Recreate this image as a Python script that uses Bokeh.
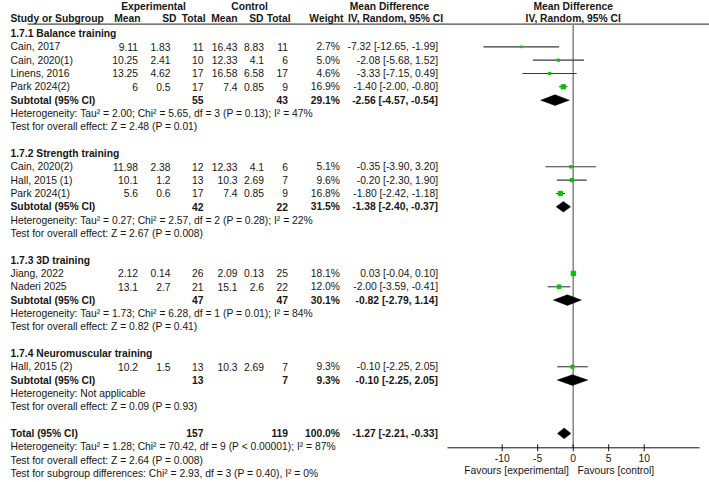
from math import sqrt

from bokeh.core.properties import value
from bokeh.embed import file_html
from bokeh.models import ColumnDataSource, Range1d
from bokeh.plotting import figure
from bokeh.resources import INLINE

# ---------------- data ----------------
groups = [
    "1.7.1 Balance training",
    "1.7.2 Strength training",
    "1.7.3 3D training",
    "1.7.4 Neuromuscular training",
]
studies = [
    "Cain, 2017", "Cain, 2020(1)", "Linens, 2016", "Park 2024(2)",
    "Cain, 2020(2)", "Hall, 2015 (1)", "Park 2024(1)",
    "Jiang, 2022", "Naderi 2025",
    "Hall, 2015 (2)",
]
study_group = [0, 0, 0, 0, 1, 1, 1, 2, 2, 3]
exp_mean = [9.11, 10.25, 13.25, 6, 11.98, 10.1, 5.6, 2.12, 13.1, 10.2]
exp_sd = [1.83, 2.41, 4.62, 0.5, 2.38, 1.2, 0.6, 0.14, 2.7, 1.5]
exp_n = [11, 10, 17, 17, 12, 13, 17, 26, 21, 13]
ctl_mean = [16.43, 12.33, 16.58, 7.4, 12.33, 10.3, 7.4, 2.09, 15.1, 10.3]
ctl_sd = [8.83, 4.1, 6.58, 0.85, 4.1, 2.69, 0.85, 0.13, 2.6, 2.69]
ctl_n = [11, 6, 17, 9, 6, 7, 9, 25, 22, 7]
weight = [2.7, 5.0, 4.6, 16.9, 5.1, 9.6, 16.8, 18.1, 12.0, 9.3]
md = [-7.32, -2.08, -3.33, -1.40, -0.35, -0.20, -1.80, 0.03, -2.00, -0.10]
md_lo = [-12.65, -5.68, -7.15, -2.00, -3.90, -2.30, -2.42, -0.04, -3.59, -2.25]
md_hi = [-1.99, 1.52, 0.49, -0.80, 3.20, 1.90, -1.18, 0.10, -0.41, 2.05]

sub_exp_n = [55, 42, 47, 13]
sub_ctl_n = [43, 22, 47, 7]
sub_weight = [29.1, 31.5, 30.1, 9.3]
sub_md = [-2.56, -1.38, -0.82, -0.10]
sub_lo = [-4.57, -2.40, -2.79, -2.25]
sub_hi = [-0.54, -0.37, 1.14, 2.05]
sub_het = [
    "Heterogeneity: Tau\u00b2 = 2.00; Chi\u00b2 = 5.65, df = 3 (P = 0.13); I\u00b2 = 47%",
    "Heterogeneity: Tau\u00b2 = 0.27; Chi\u00b2 = 2.57, df = 2 (P = 0.28); I\u00b2 = 22%",
    "Heterogeneity: Tau\u00b2 = 1.73; Chi\u00b2 = 6.28, df = 1 (P = 0.01); I\u00b2 = 84%",
    "Heterogeneity: Not applicable",
]
sub_test = [
    "Test for overall effect: Z = 2.48 (P = 0.01)",
    "Test for overall effect: Z = 2.67 (P = 0.008)",
    "Test for overall effect: Z = 0.82 (P = 0.41)",
    "Test for overall effect: Z = 0.09 (P = 0.93)",
]

total_exp_n = 157
total_ctl_n = 119
total_weight = 100.0
total_md = -1.27
total_lo = -2.21
total_hi = -0.33
total_notes = [
    "Heterogeneity: Tau\u00b2 = 1.28; Chi\u00b2 = 70.42, df = 9 (P < 0.00001); I\u00b2 = 87%",
    "Test for overall effect: Z = 2.64 (P = 0.008)",
    "Test for subgroup differences: Chi\u00b2 = 2.93, df = 3 (P = 0.40), I\u00b2 = 0%",
]

axis_ticks = [-10, -5, 0, 5, 10]
axis_limits = (-17.7, 17.8)

# ---------------- layout ----------------
W, H = 709, 482
ZERO_PX = 572.7        # pixel column of the null line
PX_PER_UNIT = 7.1      # pixels per mean-difference unit
ROW0_PX, ROW_PX = 33.0, 13.33


def row_of(px):
    return (px - ROW0_PX) / ROW_PX


FONT = value("Liberation Sans")
SIZE = value("10.3px")
INK = "#161616"

# row numbers for every line of the table
header_row, study_row, sub_row, het_row, test_row = [], [], [], [], []
r = 0
for g in range(len(groups)):
    header_row.append(r)
    r += 1
    for sg in study_group:
        if sg == g:
            study_row.append(r)
            r += 1
    sub_row.append(r)
    het_row.append(r + 1)
    test_row.append(r + 2)
    r += 4
total_row = r
note_rows = [total_row + 1, total_row + 2, total_row + 3]

p = figure(
    width=W, height=H,
    x_range=Range1d(0, W),
    y_range=Range1d(row_of(H), row_of(0)),
    x_axis_type=None, y_axis_type=None,
    output_backend="svg", toolbar_location=None,
    min_border=0,
)
p.extra_x_ranges = {"md": Range1d(-ZERO_PX / PX_PER_UNIT, (W - ZERO_PX) / PX_PER_UNIT)}
p.grid.visible = False
p.outline_line_color = None
p.background_fill_color = "white"
p.border_fill_color = "white"


def add_text(xs, ys, texts, align="left", bold=False, rng=None):
    src = ColumnDataSource(dict(x=list(xs), y=list(ys), t=list(texts)))
    kw = {"x_range_name": rng} if rng else {}
    p.text(x="x", y="y", text="t", source=src, text_font=FONT,
           text_font_size=SIZE, text_align=align, text_baseline="middle",
           text_color=INK, text_font_style="bold" if bold else "normal", **kw)


def fmt(v):
    return f"{v:g}"


def ci(m, lo, hi):
    return f"{m:.2f} [{lo:.2f}, {hi:.2f}]"


# column headers
r_top, r_head, r_rule = row_of(5.8), row_of(17.6), row_of(23.6)
add_text([153, 249, 389, ZERO_PX], [r_top] * 4,
         ["Experimental", "Control", "Mean Difference", "Mean Difference"],
         align="center", bold=True)
add_text([10], [r_head], ["Study or Subgroup"], bold=True)
add_text([140, 176, 205, 237, 263, 290, 343], [r_head] * 7,
         ["Mean", "SD", "Total", "Mean", "SD", "Total", "Weight"],
         align="right", bold=True)
add_text([395, ZERO_PX], [r_head] * 2, ["IV, Random, 95% CI"] * 2,
         align="center", bold=True)
p.segment(x0=[27], y0=[r_rule], x1=[W], y1=[r_rule], line_color="#222222", line_width=1)

# subgroup titles, study rows, subtotal rows
add_text([10] * len(groups), header_row, groups, bold=True)
add_text([10] * len(studies), study_row, studies)
cols = [
    (137.5, [fmt(v) for v in exp_mean]),
    (170, [fmt(v) for v in exp_sd]),
    (203, [str(v) for v in exp_n]),
    (237, [fmt(v) for v in ctl_mean]),
    (263.5, [fmt(v) for v in ctl_sd]),
    (287.5, [str(v) for v in ctl_n]),
    (339.5, [f"{w:.1f}%" for w in weight]),
    (437.5, [ci(m, a, b) for m, a, b in zip(md, md_lo, md_hi)]),
]
for x, texts in cols:
    add_text([x] * len(texts), study_row, texts, align="right")

add_text([10] * len(groups), sub_row, ["Subtotal (95% CI)"] * len(groups), bold=True)
sub_cols = [
    (203, [str(v) for v in sub_exp_n]),
    (287.5, [str(v) for v in sub_ctl_n]),
    (339.5, [f"{w:.1f}%" for w in sub_weight]),
    (437.5, [ci(m, a, b) for m, a, b in zip(sub_md, sub_lo, sub_hi)]),
]
for x, texts in sub_cols:
    add_text([x] * len(texts), sub_row, texts, align="right", bold=True)
add_text([10] * len(groups), het_row, sub_het)
add_text([10] * len(groups), test_row, sub_test)

# overall
add_text([10], [total_row], ["Total (95% CI)"], bold=True)
add_text([203, 287.5, 339.5, 437.5], [total_row] * 4,
         [str(total_exp_n), str(total_ctl_n), f"{total_weight:.1f}%",
          ci(total_md, total_lo, total_hi)], align="right", bold=True)
add_text([10] * 3, note_rows, total_notes)

# ---------------- forest panel ----------------
r_axis = row_of(447.3)
p.segment(x0=[0], y0=[r_rule], x1=[0], y1=[r_axis], x_range_name="md",
          line_color="#8a8a8a", line_width=1.6)

ci_src = ColumnDataSource(dict(
    y=study_row, md=md, lo=md_lo, hi=md_hi,
    sz=[1.05 * sqrt(w) for w in weight],
))
p.segment(x0="lo", y0="y", x1="hi", y1="y", source=ci_src, x_range_name="md",
          line_color="#3a3a3a", line_width=1.1)
p.scatter(x="md", y="y", size="sz", marker="square", source=ci_src,
          x_range_name="md", fill_color="#00c400", line_color="#00c400")

half_h = 0.4
dia_xs, dia_ys = [], []
for m, a, b, yy in zip(sub_md + [total_md], sub_lo + [total_lo],
                       sub_hi + [total_hi], sub_row + [total_row]):
    dia_xs.append([a, m, b, m])
    dia_ys.append([yy, yy - half_h, yy, yy + half_h])
p.patches(xs=dia_xs, ys=dia_ys, x_range_name="md", fill_color="black",
          line_color="black", line_width=0.5)

# x axis of the forest panel
p.segment(x0=[axis_limits[0]], y0=[r_axis], x1=[axis_limits[1]], y1=[r_axis],
          x_range_name="md", line_color="#111111", line_width=1)
tick_up, tick_dn = row_of(443.8), row_of(450.8)
p.segment(x0=axis_ticks, y0=[tick_up] * len(axis_ticks), x1=axis_ticks,
          y1=[tick_dn] * len(axis_ticks), x_range_name="md",
          line_color="#111111", line_width=1)
add_text(axis_ticks, [row_of(457.5)] * len(axis_ticks),
         [str(t) for t in axis_ticks], align="center", rng="md")
add_text([-0.6], [row_of(469.5)], ["Favours [experimental]"], align="right", rng="md")
add_text([0.6], [row_of(469.5)], ["Favours [control]"], align="left", rng="md")

open("out.html", "w").write(file_html(p, INLINE))
